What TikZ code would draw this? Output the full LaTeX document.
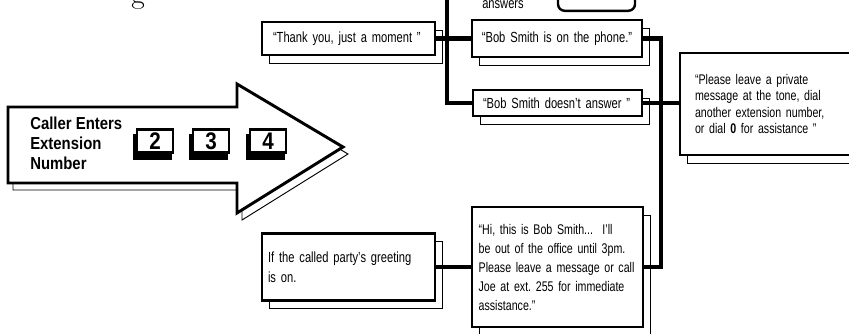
\documentclass[tikz,border=0pt]{standalone}
\usepackage{fontspec}
\newfontfamily\condf[FakeStretch=0.76]{Liberation Sans}
\newfontfamily\condbf[FakeStretch=0.86]{Liberation Sans Bold}
\usetikzlibrary{shadows}
\begin{document}
\begin{tikzpicture}[x=0.75pt,y=-0.75pt,
  bx/.style={draw, line width=1.8pt, fill=white, align=left, inner ysep=0pt,
    font=\condf\fontsize{11}{13}\selectfont,
    general shadow={shadow xshift=5.25pt, shadow yshift=-6pt, draw=black, line width=0.7pt, fill=white}},
  conn/.style={line width=3.2pt},
  keyb/.style={draw, line width=2pt, fill=white, minimum width=27pt, minimum height=17.5pt, inner sep=0pt,
    font=\condbf\fontsize{18}{18}\selectfont,
    general shadow={shadow xshift=-1.8pt, shadow yshift=-4.5pt, draw=black, line width=2pt, fill=black}},
  arrowline/.style={line width=2.2pt, fill=white, line join=miter},
  arrowshadow/.style={line width=0.7pt, fill=white}
]
\useasboundingbox (0,0) rectangle (849,333);
\clip (0,0) rectangle (849,333);

% partial heading letter at the top edge
\node[anchor=base west, inner sep=0pt, font=\fontsize{22}{22}\selectfont] (ghead) at (131,3) {g};

% big arrow
\draw[arrowshadow, shift={(5,7)}] (8,107) -- (237,107) -- (237,84) -- (343,147) -- (237,213) -- (237,183) -- (8,183) -- cycle;
\draw[arrowline] (8,107) -- (237,107) -- (237,84) -- (343,147) -- (237,213) -- (237,183) -- (8,183) -- cycle;
\node[anchor=west, align=left, inner sep=0pt, font=\condbf\fontsize{13}{15}\selectfont] (caller) at (30,143) {Caller Enters\\Extension\\Number};
\node[keyb] (k2) at (155,141) {2};
\node[keyb] (k3) at (211,141) {3};
\node[keyb] (k4) at (268,141) {4};

% top (partially visible) elements
\node[anchor=base west, inner sep=0pt, font=\condf\fontsize{11}{13}\selectfont] (ans) at (482,8) {answers};
\node[draw, line width=1.8pt, rounded corners=5pt, fill=white, minimum width=57.75pt, minimum height=30pt, anchor=south] (topbox) at (596.5,12) {};

% boxes
\node[bx, minimum width=129.75pt, minimum height=24.75pt, text width=113.25pt, inner xsep=8.25pt] (thank) at (348.5,38.5) {“Thank you, just a moment ”};
\node[bx, align=center, minimum width=127.5pt, minimum height=27.75pt, text width=115.5pt, inner xsep=6pt] (phone) at (557,38.5) {“Bob Smith is on the phone.”};
\node[bx, minimum width=126.75pt, minimum height=19.5pt, text width=111.75pt, inner xsep=7.5pt] (dont) at (557.5,103) {“Bob Smith doesn’t answer ”};
\node[bx, font=\condf\fontsize{10.5}{12.4}\selectfont, minimum width=135pt, minimum height=76.5pt, text width=112.5pt, inner xsep=11.25pt] (please) at (770,104) {“Please leave a private\\message at the tone, dial\\another extension number,\\or dial {\bfseries 0} for assistance ”};
\node[bx, font=\condf\fontsize{10.5}{14.25}\selectfont, minimum width=128.25pt, minimum height=90pt, text width=118.25pt, inner xsep=5pt] (hi) at (557.5,267) {“Hi, this is Bob Smith...\ \ I’ll\\\mbox{be out of the office until 3pm.}\\\mbox{Please leave a message or call}\\\mbox{Joe at ext.\ 255 for immediate}\\assistance.”\par\vspace*{15pt}};
\node[bx, font=\condf\fontsize{11}{15}\selectfont, minimum width=129.75pt, minimum height=50.25pt, text width=120.75pt, inner xsep=4.5pt] (ifb) at (348.5,267) {If the called party’s greeting\\is on.};

% connectors
\coordinate (ltop) at (447,-5);
\coordinate (rbot) at (661,267);
\draw[conn] (thank.east) -- (phone.west);
\draw[conn] (ltop) |- (dont.west);
\draw[conn] (phone.east) -| (rbot) -- (hi.east);
\draw[conn] (dont.east) -- (dont.east -| please.west);
\draw[conn] (hi.west) -- (ifb.east);
\end{tikzpicture}
\end{document}
